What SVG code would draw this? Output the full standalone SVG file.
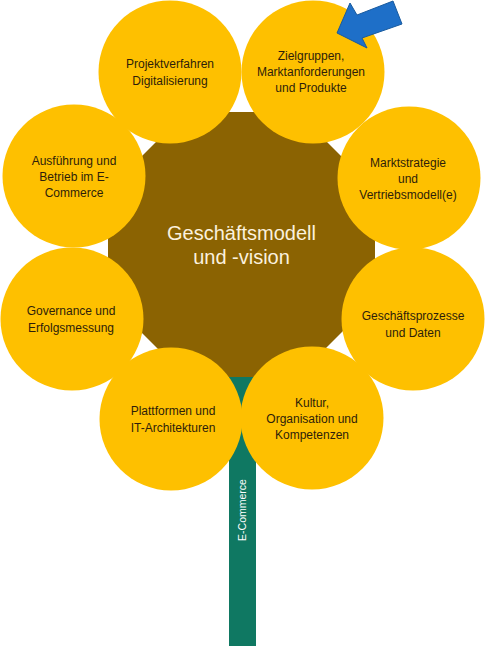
<svg xmlns="http://www.w3.org/2000/svg" width="485" height="646" viewBox="0 0 485 646">
<style>
.petal{fill:#FEC000;}
.lbl{font-family:"Liberation Sans",Arial,sans-serif;font-size:12px;fill:#2E1E0A;text-anchor:middle;}
.center{font-family:"Liberation Sans",Arial,sans-serif;font-size:20px;fill:#FBF1DE;text-anchor:middle;}
.stemtxt{font-family:"Liberation Sans",Arial,sans-serif;font-size:10.5px;fill:#FFFFFF;text-anchor:middle;}
</style>
<rect width="485" height="646" fill="#FFFFFF"/>
<g id="stem">
<rect x="229" y="370" width="27" height="276" fill="#0F7862"/>
<text class="stemtxt" transform="translate(246,510) rotate(-90)">E-Commerce</text>
</g>
<g id="core">
<polygon points="186,112 297,112 375,190 375,299 297,377 186,377 108,299 108,190" fill="#8B6302"/>
<text class="center" x="241.5" y="240">Geschäftsmodell</text>
<text class="center" x="241.5" y="264">und -vision</text>
</g>
<g id="n1">
<circle class="petal" cx="170" cy="72" r="71.5"/>
<text class="lbl" x="170" y="68">Projektverfahren</text>
<text class="lbl" x="170" y="85">Digitalisierung</text>
</g>
<g id="n2">
<circle class="petal" cx="313" cy="72" r="71.5"/>
<text class="lbl" x="311" y="60">Zielgruppen,</text>
<text class="lbl" x="311" y="76">Marktanforderungen</text>
<text class="lbl" x="311" y="92">und Produkte</text>
</g>
<g id="n3">
<circle class="petal" cx="409" cy="178" r="71.5"/>
<text class="lbl" x="408" y="167">Marktstrategie</text>
<text class="lbl" x="408" y="183">und</text>
<text class="lbl" x="408" y="199">Vertriebsmodell(e)</text>
</g>
<g id="n4">
<circle class="petal" cx="413" cy="319" r="71.5"/>
<text class="lbl" x="413" y="320">Geschäftsprozesse</text>
<text class="lbl" x="413" y="337">und Daten</text>
</g>
<g id="n5">
<circle class="petal" cx="312" cy="418" r="71.5"/>
<text class="lbl" x="312" y="407">Kultur,</text>
<text class="lbl" x="312" y="423">Organisation und</text>
<text class="lbl" x="312" y="439">Kompetenzen</text>
</g>
<g id="n6">
<circle class="petal" cx="171" cy="419" r="71.5"/>
<text class="lbl" x="173" y="415">Plattformen und</text>
<text class="lbl" x="173" y="432">IT-Architekturen</text>
</g>
<g id="n7">
<circle class="petal" cx="72" cy="319" r="71.5"/>
<text class="lbl" x="71" y="315">Governance und</text>
<text class="lbl" x="71" y="332">Erfolgsmessung</text>
</g>
<g id="n8">
<circle class="petal" cx="74" cy="176" r="71.5"/>
<text class="lbl" x="74" y="165">Ausführung und</text>
<text class="lbl" x="74" y="181">Betrieb im E-</text>
<text class="lbl" x="74" y="197">Commerce</text>
</g>
<g id="connectors">
<polygon points="337,33 350,3 357,15 393,1 402,24 362,38 367,48" fill="#1E6FC8" stroke="#185A9E" stroke-width="1" stroke-linejoin="miter"/>
</g>
</svg>
